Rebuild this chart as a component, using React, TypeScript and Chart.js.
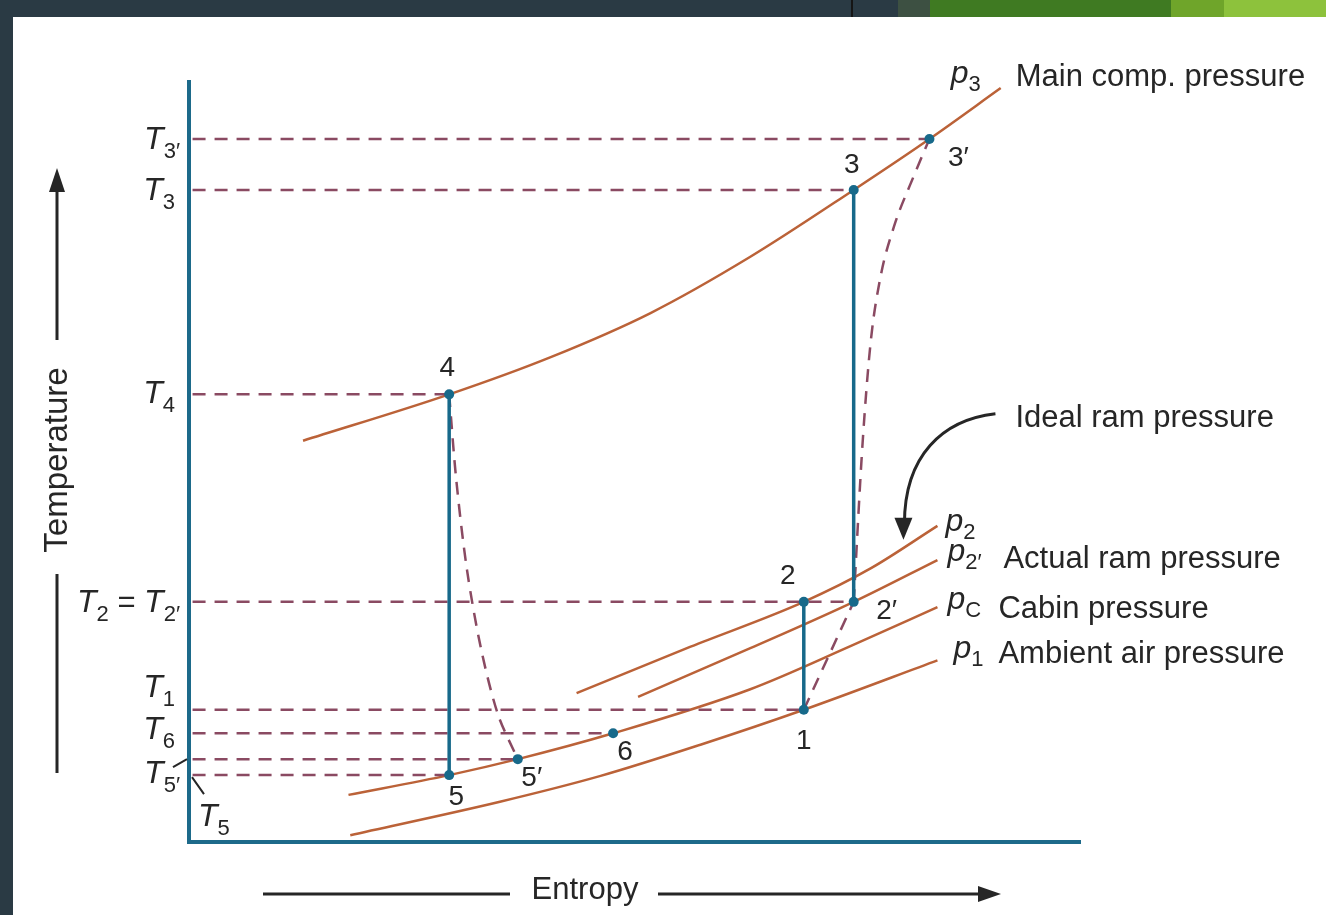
import React, { useEffect, useRef } from 'react';
import { Chart, registerables } from 'chart.js';

Chart.register(...registerables);

// ---------------- DATA (entropy s, temperature T; arbitrary units 0..100) ----------------
// State points
const stateNames = ['3′', '3', '4', '2', '2′', '1', '6', '5′', '5'];
const stateS = [83.1, 74.6, 29.2, 69.0, 74.6, 69.0, 47.6, 36.9, 29.2];
const stateT = [92.5, 85.8, 58.9, 31.6, 31.6, 17.4, 14.3, 10.9, 8.8];

// Constant-pressure lines
const p3S = [12.8, 29.2, 40.6, 51.8, 63.0, 74.6, 83.1, 91.1];
const p3T = [52.8, 58.9, 63.8, 69.6, 77.0, 85.8, 92.5, 99.2];
const p2S = [43.5, 56.3, 69.0, 76.5, 84.0];
const p2T = [19.6, 25.7, 31.6, 36.0, 41.6];
const p2pS = [50.4, 63.0, 74.6, 84.0];
const p2pT = [19.1, 25.5, 31.6, 37.1];
const pcS = [17.9, 29.2, 36.9, 47.6, 63.0, 74.3, 84.0];
const pcT = [6.2, 8.8, 10.9, 14.3, 20.1, 25.8, 30.9];
const p1S = [18.1, 34.9, 46.2, 57.4, 69.0, 84.0];
const p1T = [0.9, 5.3, 8.7, 12.8, 17.4, 23.9];

// Actual (irreversible) process paths
const exp45pS = [29.2, 30.0, 31.2, 32.8, 34.7, 36.9];
const exp45pT = [58.9, 47.6, 35.8, 25.3, 16.7, 10.9];
const comp12pS = [69.0, 74.6];
const comp12pT = [17.4, 31.6];
const comp2p3pS = [74.6, 75.6, 76.5, 77.6, 79.1, 81.3, 83.1];
const comp2p3pT = [31.6, 52.5, 65.7, 74.3, 80.9, 87.5, 92.5];

// Isentropic processes (from state -> to state)
const isentropicFrom = ['4', '3', '2'];
const isentropicTo = ['5', '2′', '1'];

// Temperature ticks: state each level belongs to and its tick subscript
const tickStates = ['3′', '3', '4', '2′', '1', '6', '5′', '5'];
const tickSubs = ['3′', '3', '4', '2', '1', '6', '5′', '5'];

// Pressure line labels
const curveSubs = ['3', '2', '2′', 'C', '1'];
const curveNotes = ['Main comp. pressure', '', 'Actual ram pressure', 'Cabin pressure', 'Ambient air pressure'];
const arrowNote = 'Ideal ram pressure';
const xTitle = 'Entropy';
const yTitle = 'Temperature';

// ---------------- STYLE ----------------
const C_CURVE = '#bb6238';
const C_DASH = '#8a4a62';
const C_BLUE = '#17698a';
const C_AXIS = '#1d6a8a';
const C_TEXT = '#262626';
const FONT = '"Liberation Sans", Arial, Helvetica, sans-serif';
const F_MAIN = `31px ${FONT}`;
const F_YTITLE = `33px ${FONT}`;
const F_ITAL = `italic 32px ${FONT}`;
const F_SUB = `22px ${FONT}`;
const F_NUM = `28px ${FONT}`;

const pts = (xs: number[], ys: number[]) => xs.map((x, i) => ({ x, y: ys[i] }));
const idx = (name: string) => stateNames.indexOf(name);
const st = (name: string) => ({ x: stateS[idx(name)], y: stateT[idx(name)] });

// point label offsets (px from point)
const stateLabelOffsets: Record<string, [number, number]> = {
  '3′': [29, 19], '3': [-2, -25], '4': [-2, -26], '2': [-16, -26], '2′': [33, 9],
  '1': [0, 32], '6': [12, 19], '5′': [14, 19], '5': [7, 22],
};
// tick label layout: [dx of anchor from axis, dy of baseline from level, align]
const tickLayout: [number, number, string][] = [
  [-9, 10, 'right'], [-14, 10, 'right'], [-14, 9, 'right'], [-9, 10, 'right'],
  [-14, -13, 'right'], [-14, 6, 'right'], [-9, 24, 'right'], [9, 51, 'left'],
];

type Piece = { t: string; f: string; dy?: number };
function drawPieces(ctx: CanvasRenderingContext2D, pieces: Piece[], x: number, y: number, align: string) {
  let total = 0;
  for (const p of pieces) { ctx.font = p.f; total += ctx.measureText(p.t).width; }
  let cx = align === 'right' ? x - total : align === 'center' ? x - total / 2 : x;
  ctx.textAlign = 'left';
  ctx.textBaseline = 'alphabetic';
  for (const p of pieces) {
    ctx.font = p.f;
    ctx.fillText(p.t, cx, y + (p.dy || 0));
    cx += ctx.measureText(p.t).width;
  }
}

const bgPlugin = {
  id: 'frameBg',
  beforeDraw(chart: any) {
    const { ctx, width, height } = chart;
    ctx.save();
    ctx.fillStyle = '#ffffff';
    ctx.fillRect(0, 0, width, height);
    ctx.fillStyle = '#2a3a44';
    ctx.fillRect(0, 0, 13, height);
    ctx.fillRect(0, 0, width, 17);
    ctx.fillStyle = '#3d5042'; ctx.fillRect(898, 0, 32, 17);
    ctx.fillStyle = '#3f7a22'; ctx.fillRect(930, 0, 241, 17);
    ctx.fillStyle = '#6fa52a'; ctx.fillRect(1171, 0, 53, 17);
    ctx.fillStyle = '#8dc23c'; ctx.fillRect(1224, 0, width - 1224, 17);
    ctx.fillStyle = '#151515'; ctx.fillRect(851, 0, 2, 17);
    ctx.restore();
  },
};

const textPlugin = {
  id: 'diagramText',
  afterDraw(chart: any) {
    const { ctx } = chart;
    const xs = chart.scales.x;
    const ys = chart.scales.y;
    const px = (v: number) => xs.getPixelForValue(v);
    const py = (v: number) => ys.getPixelForValue(v);
    ctx.save();
    ctx.fillStyle = C_TEXT;
    ctx.strokeStyle = C_TEXT;

    // state labels
    stateNames.forEach((n, i) => {
      const [dx, dy] = stateLabelOffsets[n];
      ctx.font = F_NUM;
      ctx.textAlign = 'center';
      ctx.textBaseline = 'middle';
      ctx.fillText(n, px(stateS[i]) + dx, py(stateT[i]) + dy);
    });

    // temperature tick labels
    const ax = px(0);
    tickStates.forEach((s, i) => {
      const y = py(st(s).y);
      const [dx, dy, align] = tickLayout[i];
      const pieces: Piece[] = [{ t: 'T', f: F_ITAL }, { t: tickSubs[i], f: F_SUB, dy: 9 }];
      if (s === '2′') pieces.push({ t: ' = ', f: F_MAIN }, { t: 'T', f: F_ITAL }, { t: '2′', f: F_SUB, dy: 9 });
      drawPieces(ctx, pieces, ax + dx, y + dy, align);
    });
    // leaders for T5' and T5
    ctx.lineWidth = 2;
    const y5p = py(st('5′').y);
    const y5 = py(st('5').y);
    ctx.beginPath();
    ctx.moveTo(ax - 16, y5p + 8); ctx.lineTo(ax - 2, y5p);
    ctx.moveTo(ax + 3, y5 + 2); ctx.lineTo(ax + 15, y5 + 19);
    ctx.stroke();

    // pressure line labels
    const curves = [[p3S, p3T], [p2S, p2T], [p2pS, p2pT], [pcS, pcT], [p1S, p1T]];
    const subLayout: [number, number][] = [[-50, -5], [8, 5], [10, 1], [10, 2], [16, -2]];
    const noteLayout: [number, number][] = [[15, -2], [0, 0], [66, 8], [61, 11], [61, 3]];
    curves.forEach(([cs, ct], i) => {
      const ex = px(cs[cs.length - 1]);
      const ey = py(ct[ct.length - 1]);
      const [sx, sy] = subLayout[i];
      drawPieces(ctx, [{ t: 'p', f: F_ITAL }, { t: curveSubs[i], f: F_SUB, dy: 8 }], ex + sx, ey + sy, 'left');
      if (curveNotes[i]) {
        const [nx, ny] = noteLayout[i];
        ctx.font = F_MAIN;
        ctx.textAlign = 'left';
        ctx.textBaseline = 'alphabetic';
        ctx.fillText(curveNotes[i], ex + nx, ey + ny);
      }
    });

    // ideal ram pressure note with curved arrow to p2 line
    const p2x = px(p2S[p2S.length - 1]);
    const p2y = py(p2T[p2T.length - 1]);
    ctx.font = F_MAIN;
    ctx.textAlign = 'left';
    ctx.fillText(arrowNote, p2x + 78, p2y - 99);
    const tipX = p2x - 34, tipY = p2y + 14;
    ctx.lineWidth = 3;
    ctx.beginPath();
    ctx.moveTo(p2x + 58, p2y - 112);
    ctx.bezierCurveTo(p2x + 5, p2y - 106, tipX + 1, p2y - 70, tipX + 1, tipY - 16);
    ctx.stroke();
    ctx.beginPath();
    ctx.moveTo(tipX, tipY);
    ctx.lineTo(tipX - 9, tipY - 22);
    ctx.lineTo(tipX + 9, tipY - 22);
    ctx.closePath();
    ctx.fill();

    // axis titles with arrows
    const top = ys.top, bot = ys.bottom;
    ctx.lineWidth = 3;
    ctx.save();
    ctx.translate(58, 460);
    ctx.rotate(-Math.PI / 2);
    ctx.font = F_YTITLE;
    ctx.textAlign = 'center';
    ctx.textBaseline = 'middle';
    ctx.fillText(yTitle, 0, 0);
    ctx.restore();
    ctx.beginPath();
    ctx.moveTo(57, 340); ctx.lineTo(57, 185);
    ctx.moveTo(57, 574); ctx.lineTo(57, 773);
    ctx.stroke();
    ctx.beginPath();
    ctx.moveTo(57, top + 86); ctx.lineTo(49, top + 110); ctx.lineTo(65, top + 110); ctx.closePath();
    ctx.fill();

    ctx.font = F_MAIN;
    ctx.textAlign = 'center';
    ctx.textBaseline = 'middle';
    ctx.fillText(xTitle, 585, bot + 48);
    ctx.beginPath();
    ctx.moveTo(263, bot + 52); ctx.lineTo(510, bot + 52);
    ctx.moveTo(658, bot + 52); ctx.lineTo(985, bot + 52);
    ctx.stroke();
    ctx.beginPath();
    ctx.moveTo(1001, bot + 52); ctx.lineTo(978, bot + 44); ctx.lineTo(978, bot + 60); ctx.closePath();
    ctx.fill();
    ctx.restore();
  },
};

export default function App() {
  const ref = useRef<HTMLCanvasElement | null>(null);
  useEffect(() => {
    document.body.style.margin = '0';
    const canvas = ref.current;
    if (!canvas) return;

    const curve = (xs: number[], ys: number[]) => ({
      data: pts(xs, ys), showLine: true, borderColor: C_CURVE, borderWidth: 2.5,
      pointRadius: 0, cubicInterpolationMode: 'monotone', clip: false, order: 4,
    });
    const dashed = (data: any[], tension = 0) => ({
      data, showLine: true, borderColor: C_DASH, borderWidth: 2.5, borderDash: [13, 9],
      pointRadius: 0, tension, clip: false, order: 3,
    });

    const datasets: any[] = [
      curve(p3S, p3T), curve(p2S, p2T), curve(p2pS, p2pT), curve(pcS, pcT), curve(p1S, p1T),
      ...tickStates.map((s) => dashed([{ x: 0.4, y: st(s).y }, st(s)])),
      dashed(pts(exp45pS, exp45pT), 0.3),
      dashed(pts(comp12pS, comp12pT)),
      { ...dashed(pts(comp2p3pS, comp2p3pT)), cubicInterpolationMode: 'monotone' },
      ...isentropicFrom.map((f, i) => ({
        data: [st(f), st(isentropicTo[i])], showLine: true, borderColor: C_BLUE, borderWidth: 3.5,
        pointRadius: 0, clip: false, order: 2,
      })),
      {
        data: pts(stateS, stateT), showLine: false, pointRadius: 5, pointBackgroundColor: C_BLUE,
        pointBorderWidth: 0, clip: false, order: 1,
      },
    ];

    const chart = new Chart(canvas, {
      type: 'scatter',
      data: { datasets },
      options: {
        responsive: false,
        animation: false,
        devicePixelRatio: 1,
        events: [],
        layout: { padding: { left: 189, top: 82, right: 246, bottom: 73 } },
        plugins: { legend: { display: false }, tooltip: { enabled: false }, title: { display: false } },
        scales: {
          x: {
            type: 'linear', min: 0, max: 100,
            grid: { display: false, drawTicks: false }, ticks: { display: false },
            border: { display: true, color: C_AXIS, width: 4 },
            afterFit: (s: any) => { s.height = 0; },
          },
          y: {
            type: 'linear', min: 0, max: 100,
            grid: { display: false, drawTicks: false }, ticks: { display: false },
            border: { display: true, color: C_AXIS, width: 4 },
            afterFit: (s: any) => { s.width = 0; },
          },
        },
      } as any,
      plugins: [bgPlugin, textPlugin],
    });
    return () => chart.destroy();
  }, []);

  return (
    <div style={{ position: 'absolute', left: 0, top: 0, width: 1326, height: 915 }}>
      <canvas ref={ref} width={1326} height={915} style={{ display: 'block' }} />
    </div>
  );
}
